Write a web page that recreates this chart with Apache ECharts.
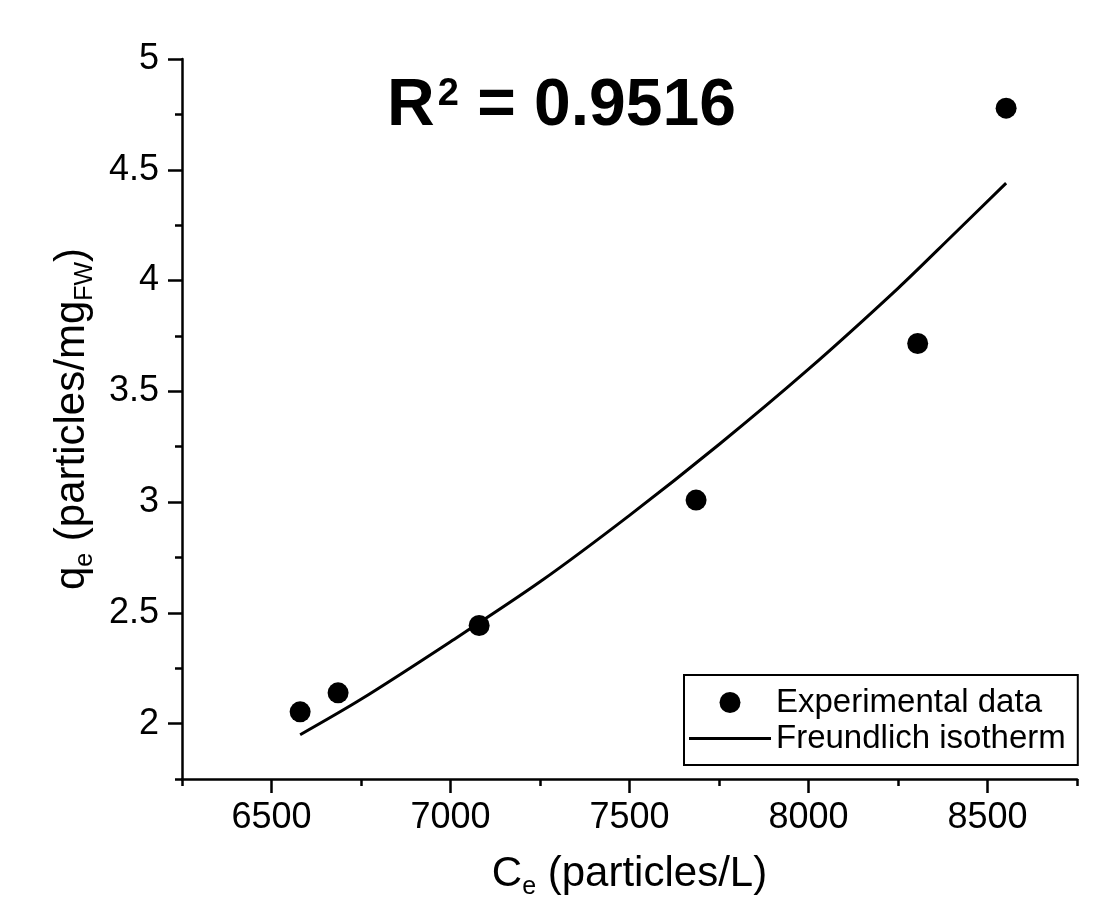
<!DOCTYPE html>
<html>
<head>
<meta charset="utf-8">
<script src="https://cdn.jsdelivr.net/npm/echarts@6/dist/echarts.min.js"></script>
<style>html,body{margin:0;padding:0;background:#fff;}#c{width:1107px;height:910px;}</style>
</head>
<body>
<div id="c"></div>
<script>
// Experimental data (Ce particles/L, qe particles/mgFW)
const expCe = [6580, 6686, 7080, 7686, 8305, 8552];
const expQe = [2.053, 2.139, 2.443, 3.009, 3.716, 4.778];
// Freundlich isotherm curve
const fitCe = [6580, 6750, 7000, 7250, 7500, 7750, 8000, 8250, 8400, 8552];
const fitQe = [1.95, 2.11, 2.37, 2.64, 2.94, 3.26, 3.60, 3.965, 4.20, 4.44];
// Axis ticks
const xMajor = [6500, 7000, 7500, 8000, 8500];
const xMinor = [6250, 6750, 7250, 7750, 8250, 8750];
const yMajor = [2, 2.5, 3, 3.5, 4, 4.5, 5];
const yMinor = [1.75, 2.25, 2.75, 3.25, 3.75, 4.25, 4.75];
const r2Text = '0.9516';

const FONT = 'Liberation Sans, Arial, sans-serif';
const chart = echarts.init(document.getElementById('c'));
const lineW = 2.5;

const expData = expCe.map((c, i) => [c, expQe[i]]);
const fitData = fitCe.map((c, i) => [c, fitQe[i]]);

chart.setOption({
  backgroundColor: '#fff',
  animation: false,
  textStyle: { fontFamily: FONT, color: '#000' },
  grid: { left: 182, right: 30, top: 59, bottom: 131, containLabel: false, outerBoundsMode: 'none' },
  xAxis: [
    {
      type: 'value', min: 6250, max: 8750,
      name: '{n|C}{s|e}{n| (particles/L)}',
      nameLocation: 'middle', nameGap: 70,
      nameTextStyle: { fontSize: 42, color: '#000', fontFamily: FONT,
        rich: { n: { fontSize: 42, fontFamily: FONT, color: '#000' },
                s: { fontSize: 25, fontFamily: FONT, color: '#000', padding: [26, 0, 0, 0] } } },
      axisLine: { show: true, onZero: false, lineStyle: { color: '#000', width: lineW } },
      axisTick: { show: true, length: 14, customValues: xMajor, lineStyle: { color: '#000', width: lineW } },
      axisLabel: { show: true, customValues: xMajor, fontSize: 36, color: '#000', fontFamily: FONT, margin: 21,
        formatter: v => String(v) },
      splitLine: { show: false }
    },
    {
      type: 'value', min: 6250, max: 8750, position: 'bottom',
      axisLine: { show: false },
      axisTick: { show: true, length: 7, customValues: xMinor, lineStyle: { color: '#000', width: lineW } },
      axisLabel: { show: false },
      splitLine: { show: false }
    }
  ],
  yAxis: [
    {
      type: 'value', min: 1.75, max: 5,
      name: '{n|q}{s|e}{n| (particles/mg}{s|FW}{n|)}',
      nameLocation: 'middle', nameGap: 82,
      nameTextStyle: { fontSize: 42, color: '#000', fontFamily: FONT,
        rich: { n: { fontSize: 42, fontFamily: FONT, color: '#000' },
                s: { fontSize: 25, fontFamily: FONT, color: '#000', padding: [26, 0, 0, 0] } } },
      axisLine: { show: true, onZero: false, lineStyle: { color: '#000', width: lineW } },
      axisTick: { show: true, length: 14, customValues: yMajor, lineStyle: { color: '#000', width: lineW } },
      axisLabel: { show: true, customValues: yMajor, fontSize: 36, color: '#000', fontFamily: FONT, margin: 23,
        formatter: v => String(v) },
      splitLine: { show: false }
    },
    {
      type: 'value', min: 1.75, max: 5, position: 'left',
      axisLine: { show: false },
      axisTick: { show: true, length: 7, customValues: yMinor, lineStyle: { color: '#000', width: lineW } },
      axisLabel: { show: false },
      splitLine: { show: false }
    }
  ],
  legend: {
    orient: 'vertical', left: 684, top: 675,
    padding: [11, 12, 10, 5], itemGap: 3,
    itemWidth: 82, itemHeight: 21,
    borderColor: '#000', borderWidth: 2, backgroundColor: '#fff',
    textStyle: { fontSize: 33, color: '#000', fontFamily: FONT },
    data: [
      { name: 'Experimental data', icon: 'circle' },
      { name: 'Freundlich isotherm', icon: 'path://M0,0H100V3.7H0Z' }
    ]
  },
  graphic: [{
    type: 'text', left: 387, top: 74,
    style: {
      text: '{m|R}{p|2}{m| = ' + r2Text + '}',
      fontFamily: FONT, fontWeight: 'bold', fill: '#000',
      rich: {
        m: { fontSize: 66, fontWeight: 'bold', fontFamily: FONT, fill: '#000', color: '#000' },
        p: { fontSize: 38, fontWeight: 'bold', fontFamily: FONT, fill: '#000', color: '#000', padding: [0, 0, 24, 3] }
      }
    }
  }],
  series: [
    {
      name: 'Freundlich isotherm', type: 'line', data: fitData, smooth: 0.3,
      symbol: 'none', showSymbol: false,
      lineStyle: { color: '#000', width: 3 }, itemStyle: { color: '#000' }, z: 2
    },
    {
      name: 'Experimental data', type: 'scatter', data: expData,
      symbol: 'circle', symbolSize: 21,
      itemStyle: { color: '#000', opacity: 1 }, z: 3
    }
  ]
});
</script>
</body>
</html>
